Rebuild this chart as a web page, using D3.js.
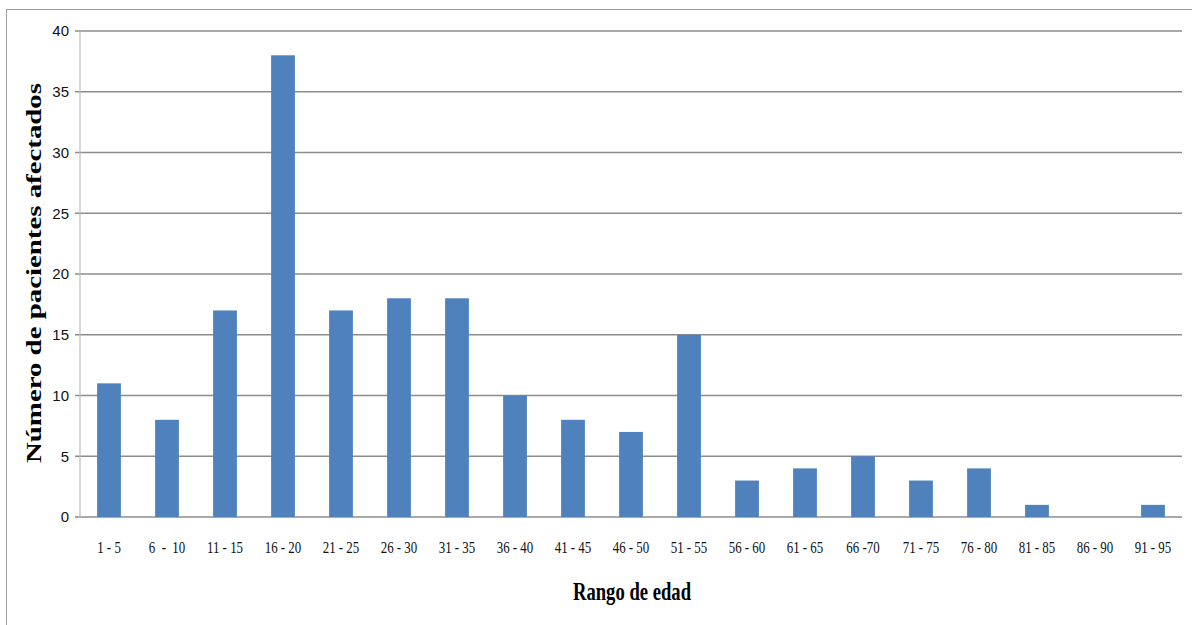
<!DOCTYPE html>
<html><head><meta charset="utf-8">
<script src="https://cdn.jsdelivr.net/npm/d3@7"></script>
<style>
html,body{margin:0;padding:0;background:#fff;}
svg{display:block;}
</style></head>
<body>
<svg id="chart" width="1192" height="625"></svg>
<script>
const categories = ["1 - 5","6  -  10","11 - 15","16 - 20","21 - 25","26 - 30","31 - 35","36 - 40","41 - 45","46 - 50","51 - 55","56 - 60","61 - 65","66 -70","71 - 75","76 - 80","81 - 85","86 - 90","91 - 95"];
const values = [11,8,17,38,17,18,18,10,8,7,15,3,4,5,3,4,1,0,1];
const yTicks = [0,5,10,15,20,25,30,35,40];
const yTitle = "Número de pacientes afectados";
const xTitle = "Rango de edad";

const svg = d3.select("#chart");
const m = {left:80, right:1182, top:31, bottom:517};

svg.append("rect").attr("x",6.5).attr("y",9.5).attr("width",1200).attr("height",630)
  .attr("fill","none").attr("stroke","#a0a0a0").attr("stroke-width",1);

const x = d3.scaleBand().domain(categories).range([m.left, m.right]).paddingInner(0.59).paddingOuter(0.295);
const y = d3.scaleLinear().domain([0,40]).range([m.bottom, m.top]);

// gridlines
svg.append("g").selectAll("line").data(yTicks).join("line")
  .attr("x1",75).attr("x2",m.right).attr("y1",d=>y(d)).attr("y2",d=>y(d))
  .attr("stroke","#8c8c8c").attr("stroke-width",1.5);

// y axis line
svg.append("line").attr("x1",m.left).attr("x2",m.left).attr("y1",m.top).attr("y2",m.bottom)
  .attr("stroke","#bdbdbd").attr("stroke-width",1.2);

// bars
svg.append("g").selectAll("rect").data(values).join("rect")
  .attr("x",(d,i)=>x(categories[i])).attr("width",x.bandwidth())
  .attr("y",d=>y(d)).attr("height",d=>y(0)-y(d))
  .attr("fill","#4f81bd");

// y tick labels
const yAxis = d3.axisLeft(y).tickValues(yTicks).tickSize(0).tickPadding(0);
const ya = svg.append("g").attr("transform",`translate(${m.left-11},0)`).call(yAxis);
ya.select(".domain").remove();
ya.selectAll("text").attr("font-family","'Liberation Sans Narrow','Liberation Sans',sans-serif")
  .attr("font-size",15).attr("fill","#111");

// x tick labels
const xAxis = d3.axisBottom(x).tickSize(0).tickPadding(0);
const xa = svg.append("g").attr("transform",`translate(0,${y(0)+24})`).call(xAxis);
xa.select(".domain").remove();
xa.selectAll("text").attr("font-family","'Liberation Serif',serif").attr("font-size",17)
  .attr("fill","#111").style("white-space","pre")
  .attr("transform","scale(0.76,1)");

// axis titles
svg.append("text").attr("x",632).attr("y",600).attr("text-anchor","middle")
  .attr("font-family","'Liberation Serif',serif").attr("font-weight","bold").attr("font-size",25)
  .attr("textLength",118).attr("lengthAdjust","spacingAndGlyphs")
  .text(xTitle);

svg.append("text").attr("transform","translate(41,273) rotate(-90)").attr("text-anchor","middle")
  .attr("font-family","'Liberation Serif',serif").attr("font-weight","bold").attr("font-size",21)
  .attr("textLength",380).attr("lengthAdjust","spacingAndGlyphs")
  .text(yTitle);
</script>
</body></html>
